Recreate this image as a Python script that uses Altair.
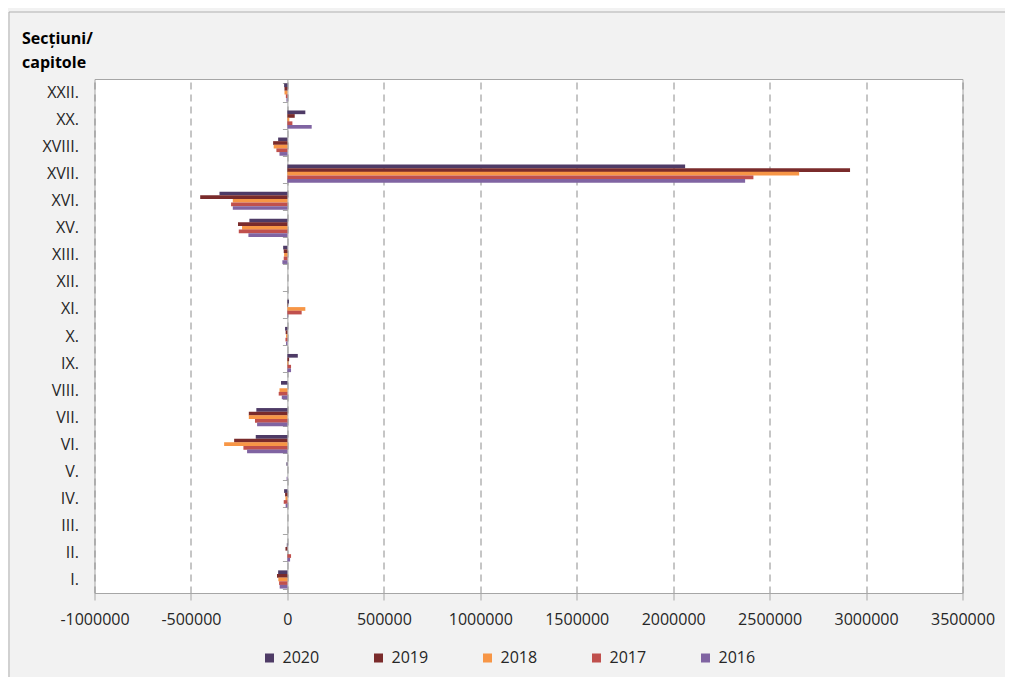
import altair as alt
import pandas as pd

categories = ["XXII.", "XX.", "XVIII.", "XVII.", "XVI.", "XV.", "XIII.", "XII.", "XI.", "X.",
              "IX.", "VIII.", "VII.", "VI.", "V.", "IV.", "III.", "II.", "I."]
years = ["2020", "2019", "2018", "2017", "2016"]
colors = ["#4E3B66", "#7A2B2B", "#F79646", "#C0504D", "#8064A2"]
title_lines = ["Secțiuni/", "capitole"]

v2020 = [-17000, 93000, -48000, 2062000, -352000, -197000, -22000, 0, 8000, -12000,
         54000, -33000, -161000, -164000, -5000, -17000, 0, -3000, -48000]
v2019 = [-15000, 38000, -74000, 2917000, -452000, -256000, -19000, 0, 2000, -9000,
         9000, 0, -200000, -276000, 0, -12000, 0, -10000, -54000]
v2018 = [-15000, 10000, -71000, 2653000, -283000, -235000, -17000, 0, 93000, -7000,
         5000, -41000, -200000, -328000, 0, -10000, 0, 0, -47000]
v2017 = [-8000, 26000, -57000, 2416000, -292000, -252000, -19000, 0, 74000, -10000,
         19000, -45000, -168000, -228000, 0, -19000, 0, 19000, -43000]
v2016 = [-5000, 126000, -41000, 2373000, -283000, -202000, -26000, 0, 2000, -7000,
         19000, -29000, -157000, -209000, -4000, -9000, 0, 14000, -40000]

series = {"2020": v2020, "2019": v2019, "2018": v2018, "2017": v2017, "2016": v2016}
rows = []
for y in years:
    for c, v in zip(categories, series[y]):
        rows.append({"cat": c, "year": y, "value": v})
df = pd.DataFrame(rows)

W, H = 868, 514
FONT = "Open Sans"

bars = alt.Chart(df).mark_bar(size=3.7).encode(
    x=alt.X("value:Q",
            scale=alt.Scale(domain=[-1000000, 3500000], nice=False, zero=False),
            axis=alt.Axis(values=list(range(-1000000, 3500001, 500000)),
                          labelExpr="'' + datum.value", labelOverlap=False, labelFlush=False,
                          title=None, grid=True, gridDash=[7, 5], gridColor="#8C8C8C",
                          domainColor="#A6A6A6", tickColor="#A6A6A6", tickSize=7,
                          labelFontSize=16, labelFont=FONT, labelColor="#262626",
                          labelPadding=19, labelBaseline="middle")),
    y=alt.Y("cat:N", sort=categories,
            scale=alt.Scale(paddingInner=0.33, paddingOuter=0.165),
            axis=alt.Axis(title=None, offset=-192.9, domainColor="#A6A6A6",
                          tickColor="#A6A6A6", tickSize=5, tickBand="extent",
                          labelPadding=204, labelFontSize=16, labelFont=FONT,
                          labelColor="#262626", grid=False)),
    yOffset=alt.YOffset("year:N", sort=years, scale=alt.Scale(paddingInner=0, paddingOuter=0)),
    color=alt.Color("year:N", sort=years,
                    scale=alt.Scale(domain=years, range=colors),
                    legend=alt.Legend(title=None, orient="none", legendX=167, legendY=571,
                                      direction="horizontal", columns=5,
                                      symbolType="square", symbolSize=81,
                                      symbolStrokeWidth=0, labelFontSize=16,
                                      labelFont=FONT, labelColor="#262626",
                                      labelOffset=5, columnPadding=51, padding=0)),
)

title = alt.Chart(pd.DataFrame({"a": [0]})).mark_text(
    text=title_lines, align="left", baseline="alphabetic", lineHeight=24,
    fontSize=16, font=FONT, fontWeight="bold", color="#000000"
).encode(x=alt.value(-72.5), y=alt.value(-35))

frame = alt.Chart(pd.DataFrame({"a": [0]})).mark_rect(
    fillOpacity=0, stroke="#B0B0B0", strokeWidth=1
).encode(x=alt.value(-85.5), x2=alt.value(1100), y=alt.value(-67), y2=alt.value(700))

chart = alt.layer(bars, title, frame).properties(
    width=W, height=H,
    background="#F2F2F2",
    padding={"left": 86.5, "top": 71, "right": 42, "bottom": 84},
    autosize=alt.AutoSizeParams(type="none"),
).configure_view(fill="white", stroke="#A6A6A6", strokeWidth=1)

chart.save("out.html", embed_options={"renderer": "svg", "actions": False})
